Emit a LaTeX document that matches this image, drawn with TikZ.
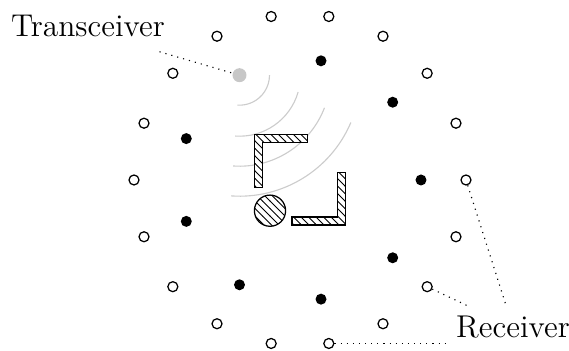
\documentclass[tikz,border=0pt]{standalone}
\usetikzlibrary{patterns,calc}
\begin{document}
\begin{tikzpicture}[x=0.4pt,y=0.4pt,
  rx/.style={circle,draw,line width=0.5pt,minimum size=4pt,inner sep=0pt,fill=white},
  tx/.style={circle,fill=black,minimum size=4.4pt,inner sep=0pt},
  gx/.style={circle,fill=black!22,minimum size=5.6pt,inner sep=0pt},
  wave/.style={black!20,line width=0.45pt},
  wall/.style={draw,line width=0.5pt,fill=white,postaction={pattern=north west lines}},
  lbl/.style={font=\fontsize{12.6}{15}\selectfont},
  lead/.style={dotted,line width=0.45pt}]
\useasboundingbox (0,0) rectangle (569,351);
\coordinate (c) at (300,171);
% waves
\node[gx] (tr) at ($(c)+(120:121)$) {};
\draw[wave] ($(tr)+(-94:30)$) arc[start angle=-94,end angle=0,radius=30];
\draw[wave] ($(tr)+(-94:61)$) arc[start angle=-94,end angle=-16,radius=61];
\draw[wave] ($(tr)+(-94:91)$) arc[start angle=-94,end angle=-21,radius=91];
\draw[wave] ($(tr)+(-94:121)$) arc[start angle=-94,end angle=-23,radius=121];
% walls and obstacle
\draw[wall] (254.3,216.7) -- (307.7,216.7) -- (307.7,208.7) -- (262.3,208.7) -- (262.3,163.3) -- (254.3,163.3) -- cycle;
\draw[wall] (345.3,178.7) -- (345.3,126) -- (292,126) -- (292,134) -- (337.3,134) -- (337.3,178.7) -- cycle;
\draw[wall] (270,140.3) circle[radius=15.6];
% receivers
\foreach \i in {0,...,17} { \node[rx] (o\i) at ($(c)+(\i*20:166)$) {}; }
% transmitters
\foreach \a/\n in {0/0,40/1,80/2,160/4,200/5,240/6,280/7,320/8} { \node[tx] (t\n) at ($(c)+(\a:121)$) {}; }
% labels
\node[lbl,anchor=base,inner sep=0.5pt] (trl) at (88,314.3) {Transceiver};
\node[lbl,anchor=base] (rec) at (513,13.3) {Receiver};
\coordinate (trend) at ($(trl.south east)+(-7,-13)$);
\draw[lead] (trend) -- (tr);
\draw[lead] (o0) -- (rec);
\draw[lead] (o16) -- (rec);
\draw[lead] (o14.east) -- (o14.east -| rec.west);
\end{tikzpicture}
\end{document}
